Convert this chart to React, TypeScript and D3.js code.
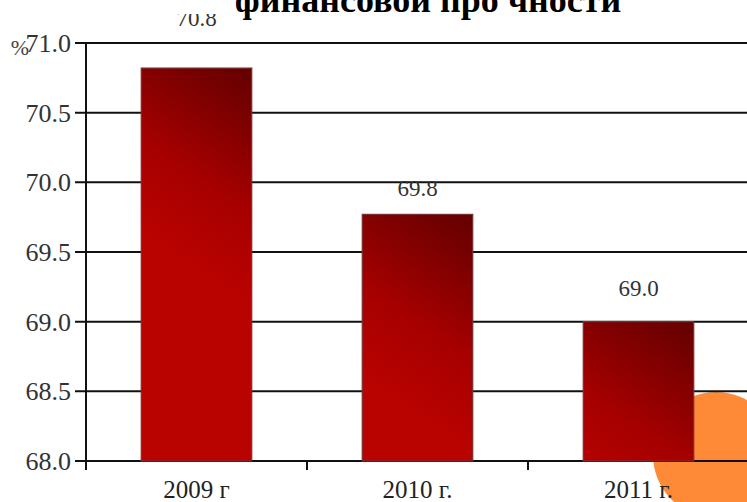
import React from 'react';
import * as d3 from 'd3';

// values
const years = ['2009 г', '2010 г.', '2011 г.'];
const shares = [70.82, 69.77, 69.0];
const shareLabels = ['70.8', '69.8', '69.0'];
const yTicks = [68.0, 68.5, 69.0, 69.5, 70.0, 70.5, 71.0];
const labelGaps = [42, 18, 26]; // value labels float at uneven heights in the original

const W = 747;
const H = 502;
const left = 86;
const right = 749;
const top = 43;
const bottom = 461;
const serif = '"Liberation Serif", "Times New Roman", serif';

const App: React.FC = () => {
  const x = d3.scaleBand<string>().domain(years).range([left, right]).paddingInner(0.5).paddingOuter(0.25);
  const y = d3.scaleLinear().domain([68, 71]).range([bottom, top]);
  const bounds = [left, ...years.slice(1).map((c) => x(c)! - x.step() * 0.25), right];
  const bw = x.bandwidth();

  return (
    <svg width={W} height={H} style={{ position: 'absolute', left: 0, top: 0 }}>
      <defs>
        {years.map((c, i) => (
          <linearGradient
            key={c}
            id={'barFill' + i}
            gradientUnits="userSpaceOnUse"
            x1={x(c)!}
            y1={y(shares[i]) + bw * 1.5}
            x2={x(c)! + bw}
            y2={y(shares[i])}
          >
            <stop offset="0" stopColor="#b90300" />
            <stop offset="0.4" stopColor="#a60000" />
            <stop offset="1" stopColor="#630000" />
          </linearGradient>
        ))}
      </defs>
      <rect width={W} height={H} fill="#fff" />
      <circle cx={716} cy={455} r={63} fill="#fe8a38" />

      {yTicks.map((t) => (
        <g key={t}>
          <line x1={left - 11} x2={right} y1={y(t)} y2={y(t)} stroke="#111" strokeWidth={2} />
          <text x={71} y={y(t)} dy="0.35em" textAnchor="end" fontSize={26} fill="#333" fontFamily={serif}>
            {d3.format('.1f')(t)}
          </text>
        </g>
      ))}

      {bounds.map((b, i) => (
        <line key={i} x1={b} x2={b} y1={bottom} y2={bottom + 9} stroke="#111" strokeWidth={2} />
      ))}
      <line x1={left} x2={left} y1={top} y2={bottom + 9} stroke="#111" strokeWidth={2} />

      {years.map((c, i) => (
        <rect
          key={c}
          x={x(c)}
          y={y(shares[i])}
          width={bw}
          height={y(68) - y(shares[i])}
          fill={`url(#barFill${i})`}
          stroke="#7a3030"
          strokeWidth={1.2}
        />
      ))}

      {years.map((c, i) => (
        <text key={c + 'v'} x={x(c)! + bw / 2} y={y(shares[i]) - labelGaps[i]} textAnchor="middle" fontSize={23} fill="#333" fontFamily={serif}>
          {shareLabels[i]}
        </text>
      ))}

      {years.map((c) => (
        <text key={c + 'c'} x={x(c)! + bw / 2} y={498} textAnchor="middle" fontSize={25} fill="#222" fontFamily={serif}>
          {c}
        </text>
      ))}

      <text x={20} y={55} textAnchor="middle" fontSize={22} fill="#444" fontFamily={serif}>%</text>

      <rect x={0} y={0} width={W} height={14} fill="#fff" />
      <text x={428} y={12} textAnchor="middle" fontSize={36} fontWeight="bold" fill="#000" fontFamily={serif}>
        финансовой про чности
      </text>
    </svg>
  );
};

export default App;
